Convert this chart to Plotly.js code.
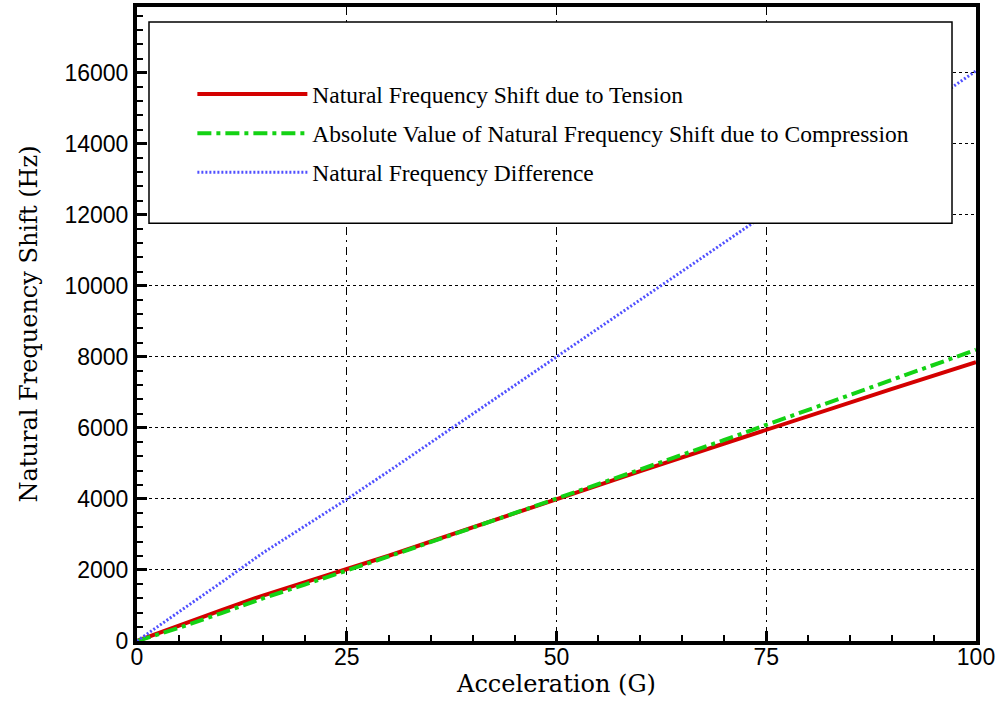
<!DOCTYPE html>
<html>
<head>
<meta charset="utf-8">
<script src="https://cdn.plot.ly/plotly-3.0.1.min.js"></script>
<style>html,body{margin:0;padding:0;background:#fff;}#chart{width:1004px;height:702px;}</style>
</head>
<body>
<div id="chart"></div>
<script>
// Acceleration (G)
const accel = [0, 5, 10, 15, 20, 25, 30, 40, 50, 60, 70, 75, 80, 90, 100];
// Natural frequency shift due to tension (Hz)
const tensionShift = [0, 440, 860, 1280, 1650, 2010, 2400, 3200, 4000, 4780, 5560, 5950, 6330, 7100, 7850];
// Absolute value of natural frequency shift due to compression (Hz)
const compressionShift = [0, 370, 780, 1200, 1590, 1980, 2380, 3190, 4000, 4830, 5660, 6080, 6500, 7350, 8200];
// Natural frequency difference (Hz)
const frequencyDiff = [0, 810, 1640, 2480, 3240, 3990, 4780, 6390, 8000, 9610, 11220, 12030, 12830, 14450, 16050];

const seriesNames = [
  'Natural Frequency Shift due to Tension',
  'Absolute Value of Natural Frequency Shift due to Compression',
  'Natural Frequency Difference'
];
const xTickVals = [0, 25, 50, 75, 100];
const yTickVals = [0, 2000, 4000, 6000, 8000, 10000, 12000, 14000, 16000];

const traces = [
  {x: accel, y: tensionShift, name: seriesNames[0], legendgroup: 'a', mode: 'lines',
   line: {color: '#d40000', width: 4}},
  {x: accel, y: compressionShift, name: seriesNames[1], legendgroup: 'b', mode: 'lines',
   line: {color: '#14d214', width: 4, dash: '14px,5px,4px,5px'}},
  {x: accel, y: frequencyDiff, name: seriesNames[2], legendgroup: 'c', mode: 'lines',
   line: {color: '#5050ff', width: 3, dash: '2px,2px'}}
];

const layout = {
  width: 1004, height: 702,
  margin: {l: 137, r: 28, t: 7, b: 61, pad: 0},
  paper_bgcolor: '#fff', plot_bgcolor: '#fff',
  font: {family: 'Liberation Sans, Arial, sans-serif', color: '#000'},
  showlegend: true,
  legend: {
    x: 0.066, y: 0.897, xanchor: 'left', yanchor: 'top',
    bgcolor: 'rgba(0,0,0,0)', borderwidth: 0,
    font: {family: 'Liberation Serif, Times New Roman, serif', size: 23.5, color: '#000'},
    itemwidth: 110, tracegroupgap: 5.5
  },
  xaxis: {
    range: [0, 100], tickvals: xTickVals, ticktext: xTickVals.map(String),
    ticks: 'inside', ticklen: 10, tickwidth: 3, tickcolor: '#000',
    minor: {dtick: 5, ticks: 'inside', ticklen: 6, tickwidth: 2, tickcolor: '#000', showgrid: false},
    showline: true, linewidth: 4, linecolor: '#000', mirror: true,
    showgrid: true, gridcolor: '#000', gridwidth: 1, griddash: '8px,5px,2px,5px',
    zeroline: false, ticklabelstandoff: -8,
    tickfont: {family: 'Liberation Sans, Arial, sans-serif', size: 23, color: '#000'},
    title: {text: 'Acceleration (G)', standoff: 2,
            font: {family: 'DejaVu Serif, serif', size: 24, color: '#000'}}
  },
  yaxis: {
    range: [0, 17850], tickvals: yTickVals, ticktext: yTickVals.map(String),
    ticks: 'inside', ticklen: 10, tickwidth: 3, tickcolor: '#000',
    minor: {dtick: 400, ticks: 'inside', ticklen: 6, tickwidth: 2, tickcolor: '#000', showgrid: false},
    showline: true, linewidth: 4, linecolor: '#000', mirror: true,
    showgrid: true, gridcolor: '#000', gridwidth: 1, griddash: 'dot',
    zeroline: false,
    tickfont: {family: 'Liberation Sans, Arial, sans-serif', size: 23, color: '#000'},
    title: {text: 'Natural Frequency Shift (Hz)', standoff: 21,
            font: {family: 'DejaVu Serif, serif', size: 24, color: '#000'}}
  },
  shapes: [{
    type: 'rect', xref: 'paper', yref: 'paper', layer: 'above',
    x0: 0.0143, x1: 0.9714, y0: 0.659, y1: 0.9765,
    fillcolor: '#fff', line: {color: '#000', width: 1.5}
  }]
};

Plotly.newPlot('chart', traces, layout, {displayModeBar: false, staticPlot: true});
</script>
</body>
</html>
